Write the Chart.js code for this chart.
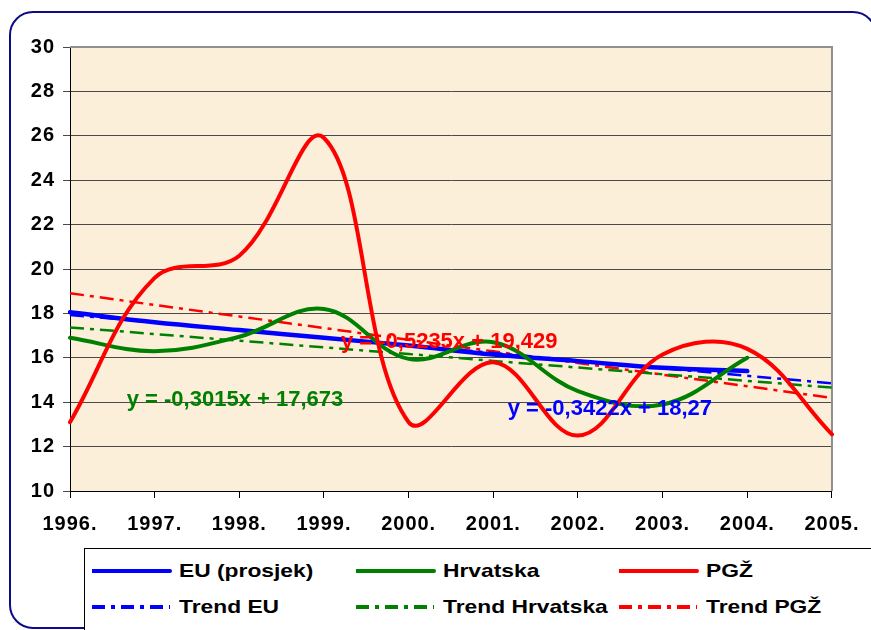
<!DOCTYPE html>
<html>
<head>
<meta charset="utf-8">
<script src="https://cdn.jsdelivr.net/npm/chart.js@4/dist/chart.umd.min.js"></script>
<style>
  html, body { margin: 0; padding: 0; background: #fff; }
  body { width: 871px; height: 630px; overflow: hidden; position: relative; font-family: "Liberation Sans", Arial, sans-serif; }
  #frame { position: absolute; left: 9px; top: 11px; width: 868px; height: 618px; box-sizing: border-box;
           border: 2.5px solid #0c0c88; border-radius: 24px; }
  #legendBox { position: absolute; left: 84px; top: 548px; width: 820px; height: 100px; border: 1px solid #000; background: #fff; }
  .lgItem { position: absolute; height: 24px; }
  .lgItem svg { position: absolute; left: 0; top: 7px; }
  .lgText { position: absolute; top: 0; font-weight: bold; font-size: 19px; line-height: 24px; color: #000;
            white-space: nowrap; transform: scaleX(1.2); transform-origin: left center; }
  #wrap { position: absolute; left: 0; top: 0; width: 871px; height: 630px; }
</style>
</head>
<body>
<div id="frame"></div>
<div id="legendBox"></div>
<div id="legend"></div>
<div id="wrap"><canvas id="c" width="871" height="630"></canvas></div>
<script>
// ---- data ----
const years = ['1996.', '1997.', '1998.', '1999.', '2000.', '2001.', '2002.', '2003.', '2004.', '2005.'];
const euValues  = [18.05, 17.6, 17.25, 16.9, 16.55, 16.15, 15.85, 15.55, 15.4];
const hrValues  = [16.9, 16.3, 16.95, 18.2, 15.95, 16.7, 14.5, 13.9, 16.0];
const pgzValues = [13.1, 19.6, 20.6, 25.9, 13.1, 15.8, 12.5, 16.15, 16.4, 12.55];
const trendEU   = [17.93, 17.59, 17.24, 16.90, 16.56, 16.22, 15.87, 15.53, 15.19, 14.85];
const trendHR   = [17.37, 17.07, 16.77, 16.47, 16.17, 15.86, 15.56, 15.26, 14.96, 14.66];
const trendPGZ  = [18.91, 18.38, 17.86, 17.34, 16.81, 16.29, 15.77, 15.24, 14.72, 14.19];
const seriesNames = ['EU (prosjek)', 'Hrvatska', 'PGŽ', 'Trend EU', 'Trend Hrvatska', 'Trend PGŽ'];
const equations = ['y = -0,3422x + 18,27', 'y = -0,3015x + 17,673', 'y = -0,5235x + 19,429'];
const yMin = 10, yMax = 30, yStep = 2;

const BLUE = '#0000ff', GREEN = '#008000', RED = '#ff0000';
const DASH = [14, 6, 4, 6];
const FONT = '"Liberation Sans", Arial, sans-serif';

// ---- legend (HTML) ----
const legendDefs = [
  { name: seriesNames[0], color: BLUE,  dash: null, x: 92,  y: 571 },
  { name: seriesNames[1], color: GREEN, dash: null, x: 356, y: 571 },
  { name: seriesNames[2], color: RED,   dash: null, x: 619, y: 571 },
  { name: seriesNames[3], color: BLUE,  dash: '13 6 4 6', x: 92,  y: 607 },
  { name: seriesNames[4], color: GREEN, dash: '13 6 4 6', x: 356, y: 607 },
  { name: seriesNames[5], color: RED,   dash: '13 6 4 6', x: 619, y: 607 }
];
const lg = document.getElementById('legend');
legendDefs.forEach(d => {
  const it = document.createElement('div');
  it.className = 'lgItem';
  it.style.left = d.x + 'px';
  it.style.top = (d.y - 12) + 'px';
  it.innerHTML = '<svg width="80" height="10"><line x1="0" y1="5" x2="78" y2="5" stroke="' + d.color +
    '" stroke-width="4"' + (d.dash ? ' stroke-dasharray="' + d.dash + '"' : ' stroke-linecap="round"') + '/></svg>' +
    '<span class="lgText" style="left:87px"></span>';
  it.querySelector('.lgText').textContent = d.name;
  lg.appendChild(it);
});

// ---- plugins ----
const plotDeco = {
  id: 'plotDeco',
  beforeDraw(chart) {
    const { ctx, chartArea: a } = chart;
    ctx.save();
    ctx.fillStyle = '#fbefda';
    ctx.fillRect(a.left, a.top, a.right - a.left, a.bottom - a.top);
    ctx.restore();
    try { ctx.letterSpacing = '1px'; } catch (e) {}
  },
  beforeDatasetsDraw(chart) {
    const { ctx, chartArea: a } = chart;
    ctx.save();
    ctx.strokeStyle = '#8f8f8f';
    ctx.lineWidth = 2;
    ctx.beginPath();
    ctx.moveTo(a.left, a.top);
    ctx.lineTo(a.right, a.top);
    ctx.lineTo(a.right, a.bottom);
    ctx.stroke();
    ctx.restore();
  },
  afterDatasetsDraw(chart) {
    const { ctx } = chart;
    const xs = chart.scales.x, ys = chart.scales.y;
    const labels = [
      { text: equations[2], color: RED,   xi: 3.2,  yv: 16.7 },
      { text: equations[1], color: GREEN, xi: 0.67, yv: 14.1 },
      { text: equations[0], color: BLUE,  xi: 5.17, yv: 13.7 }
    ];
    ctx.save();
    try { ctx.letterSpacing = '0px'; } catch (e) {}
    ctx.font = 'bold 22px ' + FONT;
    ctx.textAlign = 'left';
    ctx.textBaseline = 'middle';
    labels.forEach(l => {
      ctx.fillStyle = l.color;
      ctx.fillText(l.text, xs.getPixelForValue(l.xi), ys.getPixelForValue(l.yv));
    });
    ctx.restore();
    try { ctx.letterSpacing = '1px'; } catch (e) {}
  }
};

const solid = (label, data, color, w) => ({
  label, data, borderColor: color, backgroundColor: color, borderWidth: w,
  pointRadius: 0, tension: 0.38, fill: false, borderCapStyle: 'round', borderJoinStyle: 'round'
});
const trend = (label, data, color) => ({
  label, data, borderColor: color, backgroundColor: color, borderWidth: 2.5,
  pointRadius: 0, tension: 0, fill: false, borderDash: DASH
});

new Chart(document.getElementById('c'), {
  type: 'line',
  data: {
    labels: years,
    datasets: [
      Object.assign(solid(seriesNames[2], pgzValues, RED, 4), { order: 1 }),
      Object.assign(solid(seriesNames[1], hrValues, GREEN, 4), { order: 2 }),
      Object.assign(solid(seriesNames[0], euValues, BLUE, 4.5), { order: 3 }),
      Object.assign(trend(seriesNames[3], trendEU, BLUE), { order: 4 }),
      Object.assign(trend(seriesNames[4], trendHR, GREEN), { order: 5 }),
      Object.assign(trend(seriesNames[5], trendPGZ, RED), { order: 6 })
    ]
  },
  options: {
    responsive: false,
    animation: false,
    events: [],
    layout: { padding: { left: 0, top: 47, right: 37, bottom: 0 } },
    plugins: { legend: { display: false }, tooltip: { enabled: false }, title: { display: false } },
    scales: {
      x: {
        offset: false,
        afterFit(s) { s.height = 139; },
        grid: { display: true, drawOnChartArea: false, drawTicks: true, tickLength: 7, color: '#000', lineWidth: 1 },
        border: { display: true, color: '#000', width: 1 },
        ticks: { color: '#000', font: { family: FONT, size: 20, weight: 'bold' }, padding: 14, maxRotation: 0, autoSkip: false }
      },
      y: {
        min: yMin, max: yMax,
        afterFit(s) { s.width = 70; },
        grid: { color: '#4a4a4a', lineWidth: 1, tickLength: 7, drawTicks: true },
        border: { display: true, color: '#000', width: 1 },
        ticks: { stepSize: yStep, color: '#000', font: { family: FONT, size: 20, weight: 'bold' }, padding: 8 }
      }
    }
  },
  plugins: [plotDeco]
});
</script>
</body>
</html>
